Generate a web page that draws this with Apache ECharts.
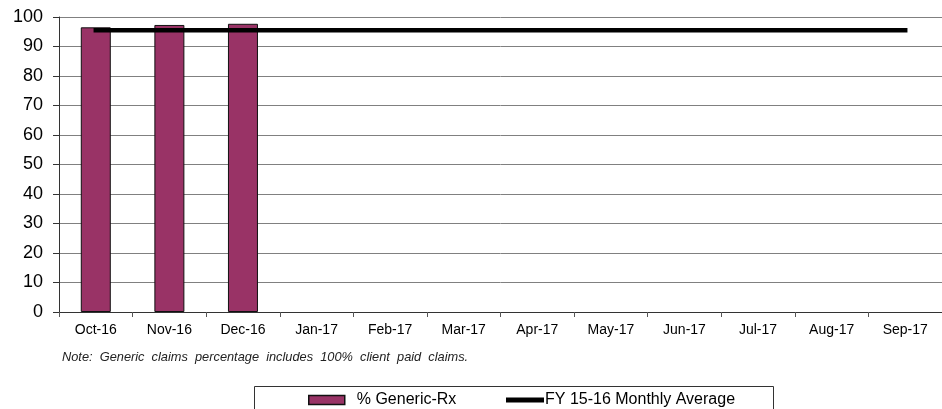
<!DOCTYPE html>
<html>
<head>
<meta charset="utf-8">
<script src="https://cdn.jsdelivr.net/npm/echarts@6/dist/echarts.min.js"></script>
<style>
  html, body { margin: 0; padding: 0; background: #fff; }
  #chart { width: 942px; height: 409px; }
</style>
</head>
<body>
<div id="chart"></div>
<script>
// Monthly generic dispensing rate, FY 16-17
const months = ['Oct-16', 'Nov-16', 'Dec-16', 'Jan-17', 'Feb-17', 'Mar-17',
                'Apr-17', 'May-17', 'Jun-17', 'Jul-17', 'Aug-17', 'Sep-17'];
const genericRx = [96.5, 97.3, 97.7, null, null, null, null, null, null, null, null, null];
const priorYearAvg = [95.5, 95.5, 95.5, 95.5, 95.5, 95.5, 95.5, 95.5, 95.5, 95.5, 95.5, 95.5];
const yTicks = { min: 0, max: 100, step: 10 };

const barName = '% Generic-Rx';
const lineName = 'FY 15-16 Monthly Average';
const font = 'Arial, "Liberation Sans", sans-serif';

const chart = echarts.init(document.getElementById('chart'), null, { renderer: 'canvas' });

chart.setOption({
  animation: false,
  backgroundColor: '#ffffff',
  textStyle: { fontFamily: font, color: '#000' },
  grid: { left: 59, right: -1, top: 17, bottom: 97, containLabel: false },
  xAxis: {
    type: 'category',
    data: months,
    boundaryGap: true,
    axisLine: { lineStyle: { color: '#333', width: 1 } },
    axisTick: { show: true, inside: false, length: 5, alignWithLabel: false, lineStyle: { color: '#555' } },
    axisLabel: { fontSize: 14, color: '#000', margin: 11, fontFamily: font, interval: 0 },
    splitLine: { show: false }
  },
  yAxis: {
    type: 'value',
    min: yTicks.min,
    max: yTicks.max,
    interval: yTicks.step,
    axisLine: { show: true, lineStyle: { color: '#333', width: 1 } },
    axisTick: { show: true, length: 6, lineStyle: { color: '#333' } },
    axisLabel: { fontSize: 18, color: '#000', margin: 16, fontFamily: font },
    splitLine: { show: true, lineStyle: { color: '#808080', width: 1 } }
  },
  legend: [
    {
      data: [{ name: barName, icon: 'rect', itemStyle: { borderColor: '#111', borderWidth: 1.5 } }],
      left: 303, top: 387,
      itemWidth: 36, itemHeight: 9,
      itemGap: 0,
      textStyle: { fontSize: 16, color: '#000', fontFamily: font, padding: [0, 0, 0, 7] }
    },
    {
      data: [{ name: lineName, icon: 'rect', itemStyle: { color: '#000', borderWidth: 0 } }],
      left: 501, top: 387,
      itemWidth: 38, itemHeight: 5,
      textStyle: { fontSize: 16, color: '#000', fontFamily: font, padding: [0, 0, 0, -4] }
    }
  ],
  graphic: [
    {
      type: 'rect',
      shape: { x: 254.5, y: 386.5, width: 519, height: 40 },
      style: { fill: 'none', stroke: '#333', lineWidth: 1 },
      z: 0, silent: true
    },
    {
      type: 'text',
      left: 62, top: 351,
      style: {
        text: 'Note:  Generic  claims  percentage  includes  100%  client  paid  claims.',
        font: 'italic 12.8px Arial, "Liberation Sans", sans-serif',
        fill: '#222'
      },
      silent: true
    }
  ],
  series: [
    {
      name: barName,
      type: 'bar',
      data: genericRx,
      barWidth: 30,
      itemStyle: { color: '#993366', borderColor: '#111', borderWidth: 1 },
      z: 2
    },
    {
      name: lineName,
      type: 'line',
      data: priorYearAvg,
      symbol: 'none',
      showSymbol: false,
      lineStyle: { color: '#000', width: 4.5, cap: 'square' },
      itemStyle: { color: '#000' },
      z: 3
    }
  ]
});
</script>
</body>
</html>
